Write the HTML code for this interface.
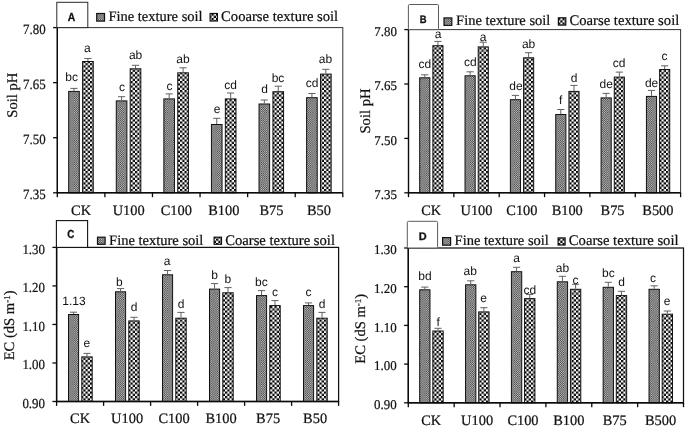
<!DOCTYPE html>
<html lang="en"><head><meta charset="utf-8"><title>Soil pH and EC charts</title>
<style>
html,body{margin:0;padding:0;background:#fff;}
body{width:685px;height:427px;overflow:hidden;}
svg{display:block;}
text{text-rendering:geometricPrecision;}
.ax{stroke:#111;stroke-width:0.22px;font-family:"Liberation Serif",serif;font-size:14.4px;fill:#111;}
.ty{stroke:#111;stroke-width:0.22px;font-family:"Liberation Serif",serif;font-size:14.6px;fill:#111;}
.yt{stroke:#111;stroke-width:0.22px;font-family:"Liberation Serif",serif;fill:#111;}
.lg{stroke:#111;stroke-width:0.22px;font-family:"Liberation Serif",serif;fill:#111;}
.bl{font-family:"Liberation Sans",sans-serif;font-size:12px;fill:#111;}
.pl{font-family:"Liberation Sans",sans-serif;font-weight:bold;fill:#111;stroke:#111;stroke-width:0.3px;}
</style></head><body>
<svg width="685" height="427" viewBox="0 0 685 427">
<defs>
<pattern id="fine" width="2.2" height="2.2" patternUnits="userSpaceOnUse"><rect width="2.2" height="2.2" fill="#cecece"/><rect width="1.1" height="1.1" fill="#363636"/><rect x="1.1" y="1.1" width="1.1" height="1.1" fill="#363636"/></pattern>
<pattern id="coarse" width="4.5" height="4.5" patternUnits="userSpaceOnUse"><rect width="4.5" height="4.5" fill="#fff"/><rect width="2.25" height="2.25" fill="#000"/><rect x="2.25" y="2.25" width="2.25" height="2.25" fill="#000"/></pattern>
</defs>
<rect width="685" height="427" fill="#fff"/>
<g id="panel-A">
<rect x="57.3" y="27.6" width="285.5" height="165.2" fill="none" stroke="#333" stroke-width="1.0"/>
<rect x="68.69" y="91.4" width="10.6" height="101.4" fill="url(#fine)" stroke="#111" stroke-width="1"/>
<path d="M73.99 88.4V90.9M70.39 88.4H77.59" stroke="#626262" stroke-width="1" fill="none"/>
<path d="M73.99 91.9V93.4M70.39 93.4H77.59" stroke="#777" stroke-width="0.9" fill="none" opacity="0.45"/>
<text class="bl" x="71.7" y="81.4" text-anchor="middle">bc</text>
<rect x="82.59" y="61.5" width="10.65" height="131.3" fill="url(#coarse)" stroke="#111" stroke-width="1"/>
<path d="M87.92 58.5V61M84.32 58.5H91.52" stroke="#626262" stroke-width="1" fill="none"/>
<path d="M87.92 62V63.5M84.32 63.5H91.52" stroke="#777" stroke-width="0.9" fill="none" opacity="0.45"/>
<text class="bl" x="87.4" y="52.1" text-anchor="middle">a</text>
<rect x="116.28" y="100.9" width="10.6" height="91.9" fill="url(#fine)" stroke="#111" stroke-width="1"/>
<path d="M121.58 96.7V100.4M117.98 96.7H125.18" stroke="#626262" stroke-width="1" fill="none"/>
<path d="M121.58 101.4V104.1M117.98 104.1H125.18" stroke="#777" stroke-width="0.9" fill="none" opacity="0.45"/>
<text class="bl" x="122" y="90.6" text-anchor="middle">c</text>
<rect x="130.18" y="68.8" width="10.65" height="124" fill="url(#coarse)" stroke="#111" stroke-width="1"/>
<path d="M135.5 65.3V68.3M131.9 65.3H139.1" stroke="#626262" stroke-width="1" fill="none"/>
<path d="M135.5 69.3V71.3M131.9 71.3H139.1" stroke="#777" stroke-width="0.9" fill="none" opacity="0.45"/>
<text class="bl" x="135.6" y="58.9" text-anchor="middle">ab</text>
<rect x="163.86" y="98.9" width="10.6" height="93.9" fill="url(#fine)" stroke="#111" stroke-width="1"/>
<path d="M169.16 93.9V98.4M165.56 93.9H172.76" stroke="#626262" stroke-width="1" fill="none"/>
<path d="M169.16 99.4V102.9M165.56 102.9H172.76" stroke="#777" stroke-width="0.9" fill="none" opacity="0.45"/>
<text class="bl" x="169.5" y="89.6" text-anchor="middle">c</text>
<rect x="177.76" y="72.8" width="10.65" height="120" fill="url(#coarse)" stroke="#111" stroke-width="1"/>
<path d="M183.08 67.8V72.3M179.48 67.8H186.68" stroke="#626262" stroke-width="1" fill="none"/>
<path d="M183.08 73.3V76.8M179.48 76.8H186.68" stroke="#777" stroke-width="0.9" fill="none" opacity="0.45"/>
<text class="bl" x="183" y="62.6" text-anchor="middle">ab</text>
<rect x="211.44" y="124.5" width="10.6" height="68.3" fill="url(#fine)" stroke="#111" stroke-width="1"/>
<path d="M216.74 118.3V124M213.14 118.3H220.34" stroke="#626262" stroke-width="1" fill="none"/>
<path d="M216.74 125V129.7M213.14 129.7H220.34" stroke="#777" stroke-width="0.9" fill="none" opacity="0.45"/>
<text class="bl" x="217" y="113.1" text-anchor="middle">e</text>
<rect x="225.34" y="98.9" width="10.65" height="93.9" fill="url(#coarse)" stroke="#111" stroke-width="1"/>
<path d="M230.67 93V98.4M227.07 93H234.27" stroke="#626262" stroke-width="1" fill="none"/>
<path d="M230.67 99.4V103.8M227.07 103.8H234.27" stroke="#777" stroke-width="0.9" fill="none" opacity="0.45"/>
<text class="bl" x="230.5" y="89" text-anchor="middle">cd</text>
<rect x="259.03" y="104" width="10.6" height="88.8" fill="url(#fine)" stroke="#111" stroke-width="1"/>
<path d="M264.33 100V103.5M260.73 100H267.93" stroke="#626262" stroke-width="1" fill="none"/>
<path d="M264.33 104.5V107M260.73 107H267.93" stroke="#777" stroke-width="0.9" fill="none" opacity="0.45"/>
<text class="bl" x="264.7" y="92.8" text-anchor="middle">d</text>
<rect x="272.93" y="91.7" width="10.65" height="101.1" fill="url(#coarse)" stroke="#111" stroke-width="1"/>
<path d="M278.25 86.2V91.2M274.65 86.2H281.85" stroke="#626262" stroke-width="1" fill="none"/>
<path d="M278.25 92.2V96.2M274.65 96.2H281.85" stroke="#777" stroke-width="0.9" fill="none" opacity="0.45"/>
<text class="bl" x="278" y="81.5" text-anchor="middle">bc</text>
<rect x="306.61" y="97.7" width="10.6" height="95.1" fill="url(#fine)" stroke="#111" stroke-width="1"/>
<path d="M311.91 93.5V97.2M308.31 93.5H315.51" stroke="#626262" stroke-width="1" fill="none"/>
<path d="M311.91 98.2V100.9M308.31 100.9H315.51" stroke="#777" stroke-width="0.9" fill="none" opacity="0.45"/>
<text class="bl" x="312" y="87.3" text-anchor="middle">cd</text>
<rect x="320.51" y="74.1" width="10.65" height="118.7" fill="url(#coarse)" stroke="#111" stroke-width="1"/>
<path d="M325.83 69.3V73.6M322.23 69.3H329.43" stroke="#626262" stroke-width="1" fill="none"/>
<path d="M325.83 74.6V77.9M322.23 77.9H329.43" stroke="#777" stroke-width="0.9" fill="none" opacity="0.45"/>
<text class="bl" x="325.5" y="63.4" text-anchor="middle">ab</text>
<path d="M57.3 27.6V192.8H342.8" stroke="#0a0a0a" stroke-width="1.4" fill="none"/>
<path d="M53.1 27.6H57.3" stroke="#0a0a0a" stroke-width="1.3"/>
<text class="yt" x="45.7" y="33.9" text-anchor="end" font-size="14.2" textLength="22.6" lengthAdjust="spacingAndGlyphs">7.80</text>
<path d="M53.1 82.67H57.3" stroke="#0a0a0a" stroke-width="1.3"/>
<text class="yt" x="45.7" y="88.97" text-anchor="end" font-size="14.2" textLength="22.6" lengthAdjust="spacingAndGlyphs">7.65</text>
<path d="M53.1 137.73H57.3" stroke="#0a0a0a" stroke-width="1.3"/>
<text class="yt" x="45.7" y="144.03" text-anchor="end" font-size="14.2" textLength="22.6" lengthAdjust="spacingAndGlyphs">7.50</text>
<path d="M53.1 192.8H57.3" stroke="#0a0a0a" stroke-width="1.3"/>
<text class="yt" x="45.7" y="199.1" text-anchor="end" font-size="14.2" textLength="22.6" lengthAdjust="spacingAndGlyphs">7.35</text>
<path d="M57.3 192.8V197.2" stroke="#0a0a0a" stroke-width="1.3"/>
<path d="M104.88 192.8V197.2" stroke="#0a0a0a" stroke-width="1.3"/>
<path d="M152.47 192.8V197.2" stroke="#0a0a0a" stroke-width="1.3"/>
<path d="M200.05 192.8V197.2" stroke="#0a0a0a" stroke-width="1.3"/>
<path d="M247.63 192.8V197.2" stroke="#0a0a0a" stroke-width="1.3"/>
<path d="M295.22 192.8V197.2" stroke="#0a0a0a" stroke-width="1.3"/>
<path d="M342.8 192.8V197.2" stroke="#0a0a0a" stroke-width="1.3"/>
<text class="ax" x="81.09" y="215.2" text-anchor="middle">CK</text>
<text class="ax" x="128.68" y="215.2" text-anchor="middle">U100</text>
<text class="ax" x="176.26" y="215.2" text-anchor="middle">C100</text>
<text class="ax" x="223.84" y="215.2" text-anchor="middle">B100</text>
<text class="ax" x="271.43" y="215.2" text-anchor="middle">B75</text>
<text class="ax" x="319.01" y="215.2" text-anchor="middle">B50</text>
<text class="ty" transform="translate(16.5 95.2) rotate(-90)" text-anchor="middle">Soil pH</text>
<rect x="56.8" y="2.3" width="31" height="25.3" rx="0" fill="#fff" stroke="#2a2a2a" stroke-width="1"/>
<text class="pl" x="71.6" y="20.8" text-anchor="middle" font-size="11.7" textLength="7.5" lengthAdjust="spacingAndGlyphs">A</text>
<rect x="96.7" y="13.5" width="7.8" height="7.6" fill="url(#fine)" stroke="#111" stroke-width="1.2"/>
<text class="lg" x="108.4" y="20.8" font-size="14.5">Fine texture soil</text>
<rect x="210.1" y="13.5" width="7.3" height="7.5" fill="url(#coarse)" stroke="#111" stroke-width="1.2"/>
<text class="lg" x="221.1" y="20.8" font-size="14.65">Cooarse texture soil</text>
</g>
<g id="panel-B">
<rect x="408.5" y="29.6" width="272.1" height="163.2" fill="none" stroke="#333" stroke-width="1.0"/>
<rect x="419.68" y="77.8" width="10.15" height="115" fill="url(#fine)" stroke="#111" stroke-width="1"/>
<path d="M424.75 74.8V77.3M421.15 74.8H428.35" stroke="#626262" stroke-width="1" fill="none"/>
<path d="M424.75 78.3V79.8M421.15 79.8H428.35" stroke="#777" stroke-width="0.9" fill="none" opacity="0.45"/>
<text class="bl" x="424.9" y="68.4" text-anchor="middle">cd</text>
<rect x="432.88" y="45.7" width="10.1" height="147.1" fill="url(#coarse)" stroke="#111" stroke-width="1"/>
<path d="M437.93 41.4V45.2M434.32 41.4H441.53" stroke="#626262" stroke-width="1" fill="none"/>
<path d="M437.93 46.2V49M434.32 49H441.53" stroke="#777" stroke-width="0.9" fill="none" opacity="0.45"/>
<text class="bl" x="438" y="38.3" text-anchor="middle">a</text>
<rect x="465.02" y="75.8" width="10.15" height="117" fill="url(#fine)" stroke="#111" stroke-width="1"/>
<path d="M470.1 71.8V75.3M466.5 71.8H473.7" stroke="#626262" stroke-width="1" fill="none"/>
<path d="M470.1 76.3V78.8M466.5 78.8H473.7" stroke="#777" stroke-width="0.9" fill="none" opacity="0.45"/>
<text class="bl" x="470.3" y="65.9" text-anchor="middle">cd</text>
<rect x="478.22" y="46.9" width="10.1" height="145.9" fill="url(#coarse)" stroke="#111" stroke-width="1"/>
<path d="M483.27 42.2V46.4M479.67 42.2H486.88" stroke="#626262" stroke-width="1" fill="none"/>
<path d="M483.27 47.4V50.6M479.67 50.6H486.88" stroke="#777" stroke-width="0.9" fill="none" opacity="0.45"/>
<text class="bl" x="483" y="41.3" text-anchor="middle">a</text>
<rect x="510.38" y="99.7" width="10.15" height="93.1" fill="url(#fine)" stroke="#111" stroke-width="1"/>
<path d="M515.45 95.4V99.2M511.85 95.4H519.05" stroke="#626262" stroke-width="1" fill="none"/>
<path d="M515.45 100.2V103M511.85 103H519.05" stroke="#777" stroke-width="0.9" fill="none" opacity="0.45"/>
<text class="bl" x="516" y="90.2" text-anchor="middle">de</text>
<rect x="523.58" y="57.8" width="10.1" height="135" fill="url(#coarse)" stroke="#111" stroke-width="1"/>
<path d="M528.62 52.7V57.3M525.02 52.7H532.23" stroke="#626262" stroke-width="1" fill="none"/>
<path d="M528.62 58.3V61.9M525.02 61.9H532.23" stroke="#777" stroke-width="0.9" fill="none" opacity="0.45"/>
<text class="bl" x="528.6" y="47.6" text-anchor="middle">ab</text>
<rect x="555.73" y="114.5" width="10.15" height="78.3" fill="url(#fine)" stroke="#111" stroke-width="1"/>
<path d="M560.8 109.5V114M557.2 109.5H564.4" stroke="#626262" stroke-width="1" fill="none"/>
<path d="M560.8 115V118.5M557.2 118.5H564.4" stroke="#777" stroke-width="0.9" fill="none" opacity="0.45"/>
<text class="bl" x="560.7" y="104.1" text-anchor="middle">f</text>
<rect x="568.93" y="91.4" width="10.1" height="101.4" fill="url(#coarse)" stroke="#111" stroke-width="1"/>
<path d="M573.98 85.4V90.9M570.38 85.4H577.58" stroke="#626262" stroke-width="1" fill="none"/>
<path d="M573.98 91.9V96.4M570.38 96.4H577.58" stroke="#777" stroke-width="0.9" fill="none" opacity="0.45"/>
<text class="bl" x="574" y="81.5" text-anchor="middle">d</text>
<rect x="601.08" y="97.9" width="10.15" height="94.9" fill="url(#fine)" stroke="#111" stroke-width="1"/>
<path d="M606.15 93.4V97.4M602.55 93.4H609.75" stroke="#626262" stroke-width="1" fill="none"/>
<path d="M606.15 98.4V101.4M602.55 101.4H609.75" stroke="#777" stroke-width="0.9" fill="none" opacity="0.45"/>
<text class="bl" x="606.2" y="87.8" text-anchor="middle">de</text>
<rect x="614.28" y="77.1" width="10.1" height="115.7" fill="url(#coarse)" stroke="#111" stroke-width="1"/>
<path d="M619.33 72.1V76.6M615.73 72.1H622.93" stroke="#626262" stroke-width="1" fill="none"/>
<path d="M619.33 77.6V81.1M615.73 81.1H622.93" stroke="#777" stroke-width="0.9" fill="none" opacity="0.45"/>
<text class="bl" x="619.2" y="67.1" text-anchor="middle">cd</text>
<rect x="646.42" y="96.4" width="10.15" height="96.4" fill="url(#fine)" stroke="#111" stroke-width="1"/>
<path d="M651.5 90.4V95.9M647.9 90.4H655.1" stroke="#626262" stroke-width="1" fill="none"/>
<path d="M651.5 96.9V101.4M647.9 101.4H655.1" stroke="#777" stroke-width="0.9" fill="none" opacity="0.45"/>
<text class="bl" x="651.6" y="86.5" text-anchor="middle">de</text>
<rect x="659.62" y="69.5" width="10.1" height="123.3" fill="url(#coarse)" stroke="#111" stroke-width="1"/>
<path d="M664.67 65.8V69M661.07 65.8H668.27" stroke="#626262" stroke-width="1" fill="none"/>
<path d="M664.67 70V72.2M661.07 72.2H668.27" stroke="#777" stroke-width="0.9" fill="none" opacity="0.45"/>
<text class="bl" x="664.4" y="60.1" text-anchor="middle">c</text>
<path d="M408.5 29.6V192.8H680.6" stroke="#0a0a0a" stroke-width="1.4" fill="none"/>
<path d="M404.3 29.6H408.5" stroke="#0a0a0a" stroke-width="1.3"/>
<text class="yt" x="396.9" y="35.9" text-anchor="end" font-size="13.5" textLength="22.6" lengthAdjust="spacingAndGlyphs">7.80</text>
<path d="M404.3 84H408.5" stroke="#0a0a0a" stroke-width="1.3"/>
<text class="yt" x="396.9" y="90.3" text-anchor="end" font-size="13.5" textLength="22.6" lengthAdjust="spacingAndGlyphs">7.65</text>
<path d="M404.3 138.4H408.5" stroke="#0a0a0a" stroke-width="1.3"/>
<text class="yt" x="396.9" y="144.7" text-anchor="end" font-size="13.5" textLength="22.6" lengthAdjust="spacingAndGlyphs">7.50</text>
<path d="M404.3 192.8H408.5" stroke="#0a0a0a" stroke-width="1.3"/>
<text class="yt" x="396.9" y="199.1" text-anchor="end" font-size="13.5" textLength="22.6" lengthAdjust="spacingAndGlyphs">7.35</text>
<path d="M408.5 192.8V197.2" stroke="#0a0a0a" stroke-width="1.3"/>
<path d="M453.85 192.8V197.2" stroke="#0a0a0a" stroke-width="1.3"/>
<path d="M499.2 192.8V197.2" stroke="#0a0a0a" stroke-width="1.3"/>
<path d="M544.55 192.8V197.2" stroke="#0a0a0a" stroke-width="1.3"/>
<path d="M589.9 192.8V197.2" stroke="#0a0a0a" stroke-width="1.3"/>
<path d="M635.25 192.8V197.2" stroke="#0a0a0a" stroke-width="1.3"/>
<path d="M680.6 192.8V197.2" stroke="#0a0a0a" stroke-width="1.3"/>
<text class="ax" x="431.18" y="215.2" text-anchor="middle">CK</text>
<text class="ax" x="476.52" y="215.2" text-anchor="middle">U100</text>
<text class="ax" x="521.88" y="215.2" text-anchor="middle">C100</text>
<text class="ax" x="567.23" y="215.2" text-anchor="middle">B100</text>
<text class="ax" x="612.58" y="215.2" text-anchor="middle">B75</text>
<text class="ax" x="657.92" y="215.2" text-anchor="middle">B500</text>
<text class="ty" transform="translate(369.8 111) rotate(-90)" text-anchor="middle">Soil pH</text>
<rect x="408.4" y="4.5" width="30.1" height="25.1" rx="1.2" fill="#fff" stroke="#5a5a5a" stroke-width="1"/>
<text class="pl" x="423.2" y="22.5" text-anchor="middle" font-size="10.8" textLength="6.8" lengthAdjust="spacingAndGlyphs">B</text>
<rect x="444" y="17.9" width="7.8" height="7.5" fill="url(#fine)" stroke="#111" stroke-width="1.2"/>
<text class="lg" x="456.1" y="25.4" font-size="14.5">Fine texture soil</text>
<rect x="558.4" y="17.8" width="7.4" height="7.3" fill="url(#coarse)" stroke="#111" stroke-width="1.2"/>
<text class="lg" x="569.5" y="25.4" font-size="14.65">Coarse texture soil</text>
</g>
<g id="panel-C">
<rect x="56.6" y="247.4" width="282" height="154.1" fill="none" stroke="#111" stroke-width="1.25"/>
<rect x="68.5" y="314.5" width="10.1" height="87" fill="url(#fine)" stroke="#111" stroke-width="1"/>
<path d="M73.55 312.2V314M69.95 312.2H77.15" stroke="#626262" stroke-width="1" fill="none"/>
<path d="M73.55 315V315.8M69.95 315.8H77.15" stroke="#777" stroke-width="0.9" fill="none" opacity="0.45"/>
<text class="bl" x="73.9" y="304.5" text-anchor="middle">1.13</text>
<rect x="81.8" y="356.9" width="10.4" height="44.6" fill="url(#coarse)" stroke="#111" stroke-width="1"/>
<path d="M87 353.4V356.4M83.4 353.4H90.6" stroke="#626262" stroke-width="1" fill="none"/>
<path d="M87 357.4V359.4M83.4 359.4H90.6" stroke="#777" stroke-width="0.9" fill="none" opacity="0.45"/>
<text class="bl" x="86.9" y="347" text-anchor="middle">e</text>
<rect x="115.5" y="291.8" width="10.1" height="109.7" fill="url(#fine)" stroke="#111" stroke-width="1"/>
<path d="M120.55 288.6V291.3M116.95 288.6H124.15" stroke="#626262" stroke-width="1" fill="none"/>
<path d="M120.55 292.3V294M116.95 294H124.15" stroke="#777" stroke-width="0.9" fill="none" opacity="0.45"/>
<text class="bl" x="119.3" y="285.6" text-anchor="middle">b</text>
<rect x="128.8" y="320.9" width="10.4" height="80.6" fill="url(#coarse)" stroke="#111" stroke-width="1"/>
<path d="M134 317.3V320.4M130.4 317.3H137.6" stroke="#626262" stroke-width="1" fill="none"/>
<path d="M134 321.4V323.5M130.4 323.5H137.6" stroke="#777" stroke-width="0.9" fill="none" opacity="0.45"/>
<text class="bl" x="134" y="311.3" text-anchor="middle">d</text>
<rect x="162.5" y="274.8" width="10.1" height="126.7" fill="url(#fine)" stroke="#111" stroke-width="1"/>
<path d="M167.55 270.5V274.3M163.95 270.5H171.15" stroke="#626262" stroke-width="1" fill="none"/>
<path d="M167.55 275.3V278.1M163.95 278.1H171.15" stroke="#777" stroke-width="0.9" fill="none" opacity="0.45"/>
<text class="bl" x="167" y="264.8" text-anchor="middle">a</text>
<rect x="175.8" y="318.2" width="10.4" height="83.3" fill="url(#coarse)" stroke="#111" stroke-width="1"/>
<path d="M181 312.4V317.7M177.4 312.4H184.6" stroke="#626262" stroke-width="1" fill="none"/>
<path d="M181 318.7V323M177.4 323H184.6" stroke="#777" stroke-width="0.9" fill="none" opacity="0.45"/>
<text class="bl" x="181" y="308" text-anchor="middle">d</text>
<rect x="209.5" y="289.1" width="10.1" height="112.4" fill="url(#fine)" stroke="#111" stroke-width="1"/>
<path d="M214.55 283.6V288.6M210.95 283.6H218.15" stroke="#626262" stroke-width="1" fill="none"/>
<path d="M214.55 289.6V293.6M210.95 293.6H218.15" stroke="#777" stroke-width="0.9" fill="none" opacity="0.45"/>
<text class="bl" x="214.7" y="279.4" text-anchor="middle">b</text>
<rect x="222.8" y="292.8" width="10.4" height="108.7" fill="url(#coarse)" stroke="#111" stroke-width="1"/>
<path d="M228 287.6V292.3M224.4 287.6H231.6" stroke="#626262" stroke-width="1" fill="none"/>
<path d="M228 293.3V297M224.4 297H231.6" stroke="#777" stroke-width="0.9" fill="none" opacity="0.45"/>
<text class="bl" x="227.8" y="282.9" text-anchor="middle">b</text>
<rect x="256.5" y="295.6" width="10.1" height="105.9" fill="url(#fine)" stroke="#111" stroke-width="1"/>
<path d="M261.55 290.6V295.1M257.95 290.6H265.15" stroke="#626262" stroke-width="1" fill="none"/>
<path d="M261.55 296.1V299.6M257.95 299.6H265.15" stroke="#777" stroke-width="0.9" fill="none" opacity="0.45"/>
<text class="bl" x="261.4" y="285.6" text-anchor="middle">bc</text>
<rect x="269.8" y="305.6" width="10.4" height="95.9" fill="url(#coarse)" stroke="#111" stroke-width="1"/>
<path d="M275 300.6V305.1M271.4 300.6H278.6" stroke="#626262" stroke-width="1" fill="none"/>
<path d="M275 306.1V309.6M271.4 309.6H278.6" stroke="#777" stroke-width="0.9" fill="none" opacity="0.45"/>
<text class="bl" x="275" y="296.2" text-anchor="middle">c</text>
<rect x="303.5" y="305.6" width="10.1" height="95.9" fill="url(#fine)" stroke="#111" stroke-width="1"/>
<path d="M308.55 302.9V305.1M304.95 302.9H312.15" stroke="#626262" stroke-width="1" fill="none"/>
<path d="M308.55 306.1V307.3M304.95 307.3H312.15" stroke="#777" stroke-width="0.9" fill="none" opacity="0.45"/>
<text class="bl" x="308.4" y="296.2" text-anchor="middle">c</text>
<rect x="316.8" y="318.2" width="10.4" height="83.3" fill="url(#coarse)" stroke="#111" stroke-width="1"/>
<path d="M322 312.4V317.7M318.4 312.4H325.6" stroke="#626262" stroke-width="1" fill="none"/>
<path d="M322 318.7V323M318.4 323H325.6" stroke="#777" stroke-width="0.9" fill="none" opacity="0.45"/>
<text class="bl" x="322" y="308" text-anchor="middle">d</text>
<path d="M56.6 247.4V401.5H338.6" stroke="#0a0a0a" stroke-width="1.4" fill="none"/>
<path d="M52.4 247.4H56.6" stroke="#0a0a0a" stroke-width="1.3"/>
<text class="yt" x="45" y="253.7" text-anchor="end" font-size="13.8" textLength="22.6" lengthAdjust="spacingAndGlyphs">1.30</text>
<path d="M52.4 285.93H56.6" stroke="#0a0a0a" stroke-width="1.3"/>
<text class="yt" x="45" y="292.23" text-anchor="end" font-size="13.8" textLength="22.6" lengthAdjust="spacingAndGlyphs">1.20</text>
<path d="M52.4 324.45H56.6" stroke="#0a0a0a" stroke-width="1.3"/>
<text class="yt" x="45" y="330.75" text-anchor="end" font-size="13.8" textLength="22.6" lengthAdjust="spacingAndGlyphs">1.10</text>
<path d="M52.4 362.98H56.6" stroke="#0a0a0a" stroke-width="1.3"/>
<text class="yt" x="45" y="369.28" text-anchor="end" font-size="13.8" textLength="22.6" lengthAdjust="spacingAndGlyphs">1.00</text>
<path d="M52.4 401.5H56.6" stroke="#0a0a0a" stroke-width="1.3"/>
<text class="yt" x="45" y="407.8" text-anchor="end" font-size="13.8" textLength="22.6" lengthAdjust="spacingAndGlyphs">0.90</text>
<path d="M56.6 401.5V405.9" stroke="#0a0a0a" stroke-width="1.3"/>
<path d="M103.6 401.5V405.9" stroke="#0a0a0a" stroke-width="1.3"/>
<path d="M150.6 401.5V405.9" stroke="#0a0a0a" stroke-width="1.3"/>
<path d="M197.6 401.5V405.9" stroke="#0a0a0a" stroke-width="1.3"/>
<path d="M244.6 401.5V405.9" stroke="#0a0a0a" stroke-width="1.3"/>
<path d="M291.6 401.5V405.9" stroke="#0a0a0a" stroke-width="1.3"/>
<path d="M338.6 401.5V405.9" stroke="#0a0a0a" stroke-width="1.3"/>
<text class="ax" x="80.1" y="423.3" text-anchor="middle">CK</text>
<text class="ax" x="127.1" y="423.3" text-anchor="middle">U100</text>
<text class="ax" x="174.1" y="423.3" text-anchor="middle">C100</text>
<text class="ax" x="221.1" y="423.3" text-anchor="middle">B100</text>
<text class="ax" x="268.1" y="423.3" text-anchor="middle">B75</text>
<text class="ax" x="315.1" y="423.3" text-anchor="middle">B50</text>
<text class="ty" transform="translate(14 325.4) rotate(-90)" text-anchor="middle">EC (dS m<tspan font-size="9" dy="-4.5">-1</tspan><tspan dy="4.5">)</tspan></text>
<rect x="56.4" y="220.6" width="31.2" height="26.8" rx="0" fill="#fff" stroke="#111" stroke-width="1.1"/>
<text class="pl" x="70.8" y="237.9" text-anchor="middle" font-size="11.7" textLength="7.1" lengthAdjust="spacingAndGlyphs">C</text>
<rect x="97.5" y="237.2" width="7.6" height="7.1" fill="url(#fine)" stroke="#111" stroke-width="1.2"/>
<text class="lg" x="109.1" y="244.5" font-size="14.5">Fine texture soil</text>
<rect x="214.1" y="237.2" width="7.4" height="7.1" fill="url(#coarse)" stroke="#111" stroke-width="1.2"/>
<text class="lg" x="225.2" y="244.5" font-size="14.65">Coarse texture soil</text>
</g>
<g id="panel-D">
<rect x="408.3" y="248" width="275.2" height="154.8" fill="none" stroke="#111" stroke-width="1.25"/>
<rect x="419.68" y="289.8" width="10.3" height="113" fill="url(#fine)" stroke="#111" stroke-width="1"/>
<path d="M424.83 287.1V289.3M421.23 287.1H428.43" stroke="#626262" stroke-width="1" fill="none"/>
<path d="M424.83 290.3V291.5M421.23 291.5H428.43" stroke="#777" stroke-width="0.9" fill="none" opacity="0.45"/>
<text class="bl" x="424.9" y="279.9" text-anchor="middle">bd</text>
<rect x="432.83" y="331" width="10.35" height="71.8" fill="url(#coarse)" stroke="#111" stroke-width="1"/>
<path d="M438.01 328.3V330.5M434.41 328.3H441.61" stroke="#626262" stroke-width="1" fill="none"/>
<path d="M438.01 331.5V332.7M434.41 332.7H441.61" stroke="#777" stroke-width="0.9" fill="none" opacity="0.45"/>
<text class="bl" x="438.2" y="326.1" text-anchor="middle">f</text>
<rect x="465.55" y="284.8" width="10.3" height="118" fill="url(#fine)" stroke="#111" stroke-width="1"/>
<path d="M470.7 280.8V284.3M467.1 280.8H474.3" stroke="#626262" stroke-width="1" fill="none"/>
<path d="M470.7 285.3V287.8M467.1 287.8H474.3" stroke="#777" stroke-width="0.9" fill="none" opacity="0.45"/>
<text class="bl" x="470.3" y="274.9" text-anchor="middle">ab</text>
<rect x="478.7" y="311.9" width="10.35" height="90.9" fill="url(#coarse)" stroke="#111" stroke-width="1"/>
<path d="M483.88 307.7V311.4M480.27 307.7H487.48" stroke="#626262" stroke-width="1" fill="none"/>
<path d="M483.88 312.4V315.1M480.27 315.1H487.48" stroke="#777" stroke-width="0.9" fill="none" opacity="0.45"/>
<text class="bl" x="483.6" y="301.7" text-anchor="middle">e</text>
<rect x="511.42" y="271.7" width="10.3" height="131.1" fill="url(#fine)" stroke="#111" stroke-width="1"/>
<path d="M516.57 267.3V271.2M512.97 267.3H520.17" stroke="#626262" stroke-width="1" fill="none"/>
<path d="M516.57 272.2V275.1M512.97 275.1H520.17" stroke="#777" stroke-width="0.9" fill="none" opacity="0.45"/>
<text class="bl" x="516.5" y="262" text-anchor="middle">a</text>
<rect x="524.57" y="298.6" width="10.35" height="104.2" fill="url(#coarse)" stroke="#111" stroke-width="1"/>
<path d="M529.74 294.4V298.1M526.14 294.4H533.34" stroke="#626262" stroke-width="1" fill="none"/>
<path d="M529.74 299.1V301.8M526.14 301.8H533.34" stroke="#777" stroke-width="0.9" fill="none" opacity="0.45"/>
<text class="bl" x="529.8" y="293.7" text-anchor="middle">cd</text>
<rect x="557.28" y="281.8" width="10.3" height="121" fill="url(#fine)" stroke="#111" stroke-width="1"/>
<path d="M562.43 276.3V281.3M558.83 276.3H566.03" stroke="#626262" stroke-width="1" fill="none"/>
<path d="M562.43 282.3V286.3M558.83 286.3H566.03" stroke="#777" stroke-width="0.9" fill="none" opacity="0.45"/>
<text class="bl" x="562.5" y="271.8" text-anchor="middle">ab</text>
<rect x="570.43" y="289.3" width="10.35" height="113.5" fill="url(#coarse)" stroke="#111" stroke-width="1"/>
<path d="M575.61 284.3V288.8M572.01 284.3H579.21" stroke="#626262" stroke-width="1" fill="none"/>
<path d="M575.61 289.8V293.3M572.01 293.3H579.21" stroke="#777" stroke-width="0.9" fill="none" opacity="0.45"/>
<text class="bl" x="575.5" y="283.6" text-anchor="middle">c</text>
<rect x="603.15" y="287.3" width="10.3" height="115.5" fill="url(#fine)" stroke="#111" stroke-width="1"/>
<path d="M608.3 282.3V286.8M604.7 282.3H611.9" stroke="#626262" stroke-width="1" fill="none"/>
<path d="M608.3 287.8V291.3M604.7 291.3H611.9" stroke="#777" stroke-width="0.9" fill="none" opacity="0.45"/>
<text class="bl" x="608.4" y="277.4" text-anchor="middle">bc</text>
<rect x="616.3" y="295.6" width="10.35" height="107.2" fill="url(#coarse)" stroke="#111" stroke-width="1"/>
<path d="M621.48 291.3V295.1M617.88 291.3H625.08" stroke="#626262" stroke-width="1" fill="none"/>
<path d="M621.48 296.1V298.9M617.88 298.9H625.08" stroke="#777" stroke-width="0.9" fill="none" opacity="0.45"/>
<text class="bl" x="621.5" y="286.2" text-anchor="middle">d</text>
<rect x="649.02" y="289.3" width="10.3" height="113.5" fill="url(#fine)" stroke="#111" stroke-width="1"/>
<path d="M654.17 285.8V288.8M650.57 285.8H657.77" stroke="#626262" stroke-width="1" fill="none"/>
<path d="M654.17 289.8V291.8M650.57 291.8H657.77" stroke="#777" stroke-width="0.9" fill="none" opacity="0.45"/>
<text class="bl" x="653.1" y="281.9" text-anchor="middle">c</text>
<rect x="662.17" y="314.2" width="10.35" height="88.6" fill="url(#coarse)" stroke="#111" stroke-width="1"/>
<path d="M667.34 311V313.7M663.74 311H670.94" stroke="#626262" stroke-width="1" fill="none"/>
<path d="M667.34 314.7V316.4M663.74 316.4H670.94" stroke="#777" stroke-width="0.9" fill="none" opacity="0.45"/>
<text class="bl" x="667.2" y="304.5" text-anchor="middle">e</text>
<path d="M408.3 248V402.8H683.5" stroke="#0a0a0a" stroke-width="1.4" fill="none"/>
<path d="M404.1 248H408.3" stroke="#0a0a0a" stroke-width="1.3"/>
<text class="yt" x="396.7" y="254.3" text-anchor="end" font-size="13.5" textLength="22.6" lengthAdjust="spacingAndGlyphs">1.30</text>
<path d="M404.1 286.7H408.3" stroke="#0a0a0a" stroke-width="1.3"/>
<text class="yt" x="396.7" y="293" text-anchor="end" font-size="13.5" textLength="22.6" lengthAdjust="spacingAndGlyphs">1.20</text>
<path d="M404.1 325.4H408.3" stroke="#0a0a0a" stroke-width="1.3"/>
<text class="yt" x="396.7" y="331.7" text-anchor="end" font-size="13.5" textLength="22.6" lengthAdjust="spacingAndGlyphs">1.10</text>
<path d="M404.1 364.1H408.3" stroke="#0a0a0a" stroke-width="1.3"/>
<text class="yt" x="396.7" y="370.4" text-anchor="end" font-size="13.5" textLength="22.6" lengthAdjust="spacingAndGlyphs">1.00</text>
<path d="M404.1 402.8H408.3" stroke="#0a0a0a" stroke-width="1.3"/>
<text class="yt" x="396.7" y="409.1" text-anchor="end" font-size="13.5" textLength="22.6" lengthAdjust="spacingAndGlyphs">0.90</text>
<path d="M408.3 402.8V407.2" stroke="#0a0a0a" stroke-width="1.3"/>
<path d="M454.17 402.8V407.2" stroke="#0a0a0a" stroke-width="1.3"/>
<path d="M500.03 402.8V407.2" stroke="#0a0a0a" stroke-width="1.3"/>
<path d="M545.9 402.8V407.2" stroke="#0a0a0a" stroke-width="1.3"/>
<path d="M591.77 402.8V407.2" stroke="#0a0a0a" stroke-width="1.3"/>
<path d="M637.63 402.8V407.2" stroke="#0a0a0a" stroke-width="1.3"/>
<path d="M683.5 402.8V407.2" stroke="#0a0a0a" stroke-width="1.3"/>
<text class="ax" x="431.23" y="424.7" text-anchor="middle">CK</text>
<text class="ax" x="477.1" y="424.7" text-anchor="middle">U100</text>
<text class="ax" x="522.97" y="424.7" text-anchor="middle">C100</text>
<text class="ax" x="568.83" y="424.7" text-anchor="middle">B100</text>
<text class="ax" x="614.7" y="424.7" text-anchor="middle">B75</text>
<text class="ax" x="660.57" y="424.7" text-anchor="middle">B500</text>
<text class="ty" transform="translate(365 328.8) rotate(-90)" text-anchor="middle">EC (dS m<tspan font-size="9" dy="-4.5">-1</tspan><tspan dy="4.5">)</tspan></text>
<rect x="407.3" y="221.3" width="30.3" height="26.7" rx="1.2" fill="#fff" stroke="#5a5a5a" stroke-width="1"/>
<text class="pl" x="422.6" y="239.8" text-anchor="middle" font-size="11" textLength="7.9" lengthAdjust="spacingAndGlyphs">D</text>
<rect x="442.6" y="237.6" width="8" height="7.6" fill="url(#fine)" stroke="#111" stroke-width="1.2"/>
<text class="lg" x="454.6" y="245" font-size="14.5">Fine texture soil</text>
<rect x="558.1" y="237.9" width="7" height="7.1" fill="url(#coarse)" stroke="#111" stroke-width="1.2"/>
<text class="lg" x="568.8" y="245" font-size="14.65">Coarse texture soil</text>
</g>
</svg></body></html>
